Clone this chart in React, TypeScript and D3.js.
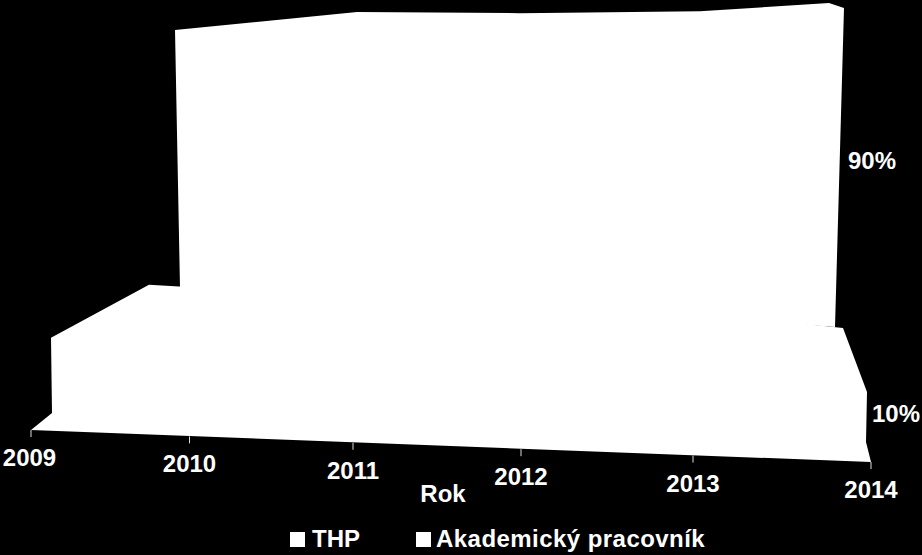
import { useEffect, useRef } from "react";
import * as d3 from "d3";

const years = [2009, 2010, 2011, 2012, 2013, 2014];
const thpValues = [16, 15, 14, 13, 12.5, 10];
// Akademický pracovník has no visible wall for 2009, the layer starts in 2010
const akademickyYears = [2010, 2011, 2012, 2013, 2014];
const akademickyValues = [86, 90.7, 89.2, 88.7, 90];
const legendLabels = ["THP", "Akademický pracovník"];
const axisTitle = "Rok";

const FONT = "'Liberation Sans', Arial, sans-serif";

type Pt = [number, number];

const App = () => {
	const svgRef = useRef<SVGSVGElement>(null);

	useEffect(() => {
		if (!svgRef.current) return;
		const svg = d3.select(svgRef.current);
		svg.selectAll("*").remove();

		const first = years[0];
		const last = years[years.length - 1];
		const line = d3.line<Pt>();
		const closed = (pts: Pt[]) => line(pts) + "Z";

		// Sol du graphique, axe incliné
		const tickX = d3.scaleLinear().domain(years).range([31, 189.5, 353, 521, 693, 871]);
		const floorY = d3.scaleLinear().domain([first, last]).range([430, 462]);

		// Couche avant (THP)
		const frontTopX = d3.scalePow().exponent(1.04).domain([0, 5]).range([51, 867]);
		const frontBaseX = d3.scalePow().exponent(1.04).domain([0, 5]).range([52, 866]);
		const frontBaseY = d3.scaleLinear().domain([first, last]).range([413, 442]);
		const frontPx = d3.scaleLinear().domain([first, last]).range([4.7, 5]);
		const depthX = d3.scaleLinear().domain([first, last]).range([98, -24]);
		const depthY = d3.scaleLinear().domain([first, last]).range([-53, -64]);

		const frontTop: Pt[] = years.map((y, i) => [
			frontTopX(i),
			frontBaseY(y) - thpValues[i] * frontPx(y),
		]);
		const frontBase: Pt[] = years.map((y, i) => [frontBaseX(i), frontBaseY(y)]);
		const frontBack: Pt[] = years.map((y, i) => [
			frontTop[i][0] + depthX(y),
			frontTop[i][1] + depthY(y),
		]);

		// Couche arrière (Akademický pracovník)
		const backTopX = d3.scaleLinear().domain(akademickyYears).range([175, 357, 520, 700, 829]);
		const backLean = d3.scaleLinear().domain([2010, last]).range([5, 6]);
		const backBaseY = d3.scaleLinear().domain([2010, last]).range([288, 327]);
		const backPx = d3.scaleLinear().domain([2010, last]).range([3, 3.6]);

		const backTop: Pt[] = akademickyYears.map((y, i) => [
			backTopX(y),
			backBaseY(y) - akademickyValues[i] * backPx(y),
		]);
		const backBase: Pt[] = akademickyYears.map((y) => [
			backTopX(y) + backLean(y),
			backBaseY(y),
		]);
		const backEnd = backTop[backTop.length - 1];
		const backSide: Pt = [backEnd[0] + 15, backEnd[1] + 5];

		svg
			.append("path")
			.attr("fill", "#fff")
			.attr("d", closed([...backTop, backSide, ...backBase.slice().reverse()]));

		// Tout est blanc : un seul contour pour la couche avant et le sol, sans raccords
		const n = years.length - 1;
		svg
			.append("path")
			.attr("fill", "#fff")
			.attr(
				"d",
				closed([
					...frontBack,
					frontTop[n],
					frontBase[n],
					[tickX(last), floorY(last)],
					[tickX(first), floorY(first)],
					frontBase[0],
					frontTop[0],
				]),
			);

		// Graduations
		svg
			.append("g")
			.selectAll("line")
			.data(years)
			.join("line")
			.attr("x1", (d) => tickX(d))
			.attr("x2", (d) => tickX(d))
			.attr("y1", (d) => floorY(d))
			.attr("y2", (d) => floorY(d) + 7)
			.attr("stroke", "#ddd")
			.attr("stroke-width", 1);

		const addText = (x: number, y: number, text: string, anchor = "middle") =>
			svg
				.append("text")
				.attr("x", x)
				.attr("y", y)
				.attr("fill", "#fff")
				.attr("font-family", FONT)
				.attr("font-weight", "bold")
				.attr("font-size", 24)
				.attr("text-anchor", anchor)
				.text(text);

		// Libellés de l'axe
		years.forEach((y) => {
			addText(tickX(y) - (y === first ? 1.5 : 0), floorY(y) + 36, String(y));
		});
		addText(443, 502, axisTitle);

		// Étiquettes de données
		addText(848, 169, `${akademickyValues[akademickyValues.length - 1]}%`, "start");
		addText(872, 422, `${thpValues[thpValues.length - 1]}%`, "start");

		// Légende
		const legendX = d3.scaleOrdinal<string, number>().domain(legendLabels).range([290, 416]);
		legendLabels.forEach((label) => {
			svg
				.append("rect")
				.attr("x", legendX(label))
				.attr("y", 532)
				.attr("width", 15)
				.attr("height", 15)
				.attr("fill", "#fff");
			addText(legendX(label) + (label === legendLabels[1] ? 20 : 22), 547, label, "start").attr(
				"letter-spacing",
				label === legendLabels[1] ? 0.45 : 0,
			);
		});
	}, []);

	return (
		<svg
			ref={svgRef}
			width={922}
			height={555}
			style={{ position: "absolute", left: 0, top: 0, background: "#000" }}
		></svg>
	);
};

export default App;
